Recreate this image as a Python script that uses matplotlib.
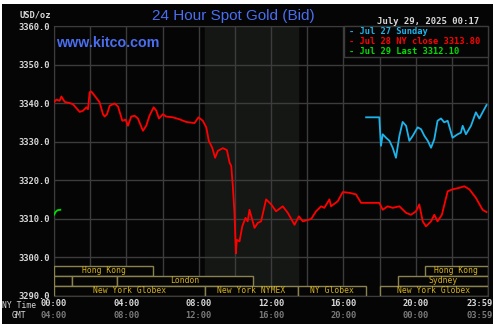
import matplotlib
matplotlib.use("Agg")
import matplotlib.pyplot as plt
from matplotlib.patches import Rectangle
from matplotlib.transforms import blended_transform_factory

# hours since 00:00 NY time, price in USD/oz
jul28_t = [0, 0.13, 0.31, 0.41, 0.59, 0.87, 1.05, 1.42, 1.6, 1.79, 1.88, 1.97, 2.06,
           2.25, 2.52, 2.71, 2.8, 2.93, 3.08, 3.35, 3.54, 3.78, 3.96, 4.09, 4.27, 4.46,
           4.64, 4.92, 5.1, 5.28, 5.51, 5.66, 5.8, 6.02, 6.2, 6.57, 6.93, 7.31, 7.77,
           7.99, 8.23, 8.42, 8.56, 8.75, 8.91, 9.06, 9.34, 9.56, 9.71, 9.8, 9.89, 9.98,
           10.06, 10.11, 10.26, 10.41, 10.59, 10.71, 10.81, 11.09, 11.27, 11.45, 11.73,
           12.01, 12.28, 12.65, 12.93, 13.3, 13.54, 13.76, 14.22, 14.49, 14.77, 14.95,
           15.23, 15.32, 15.69, 15.97, 16.34, 16.7, 16.98, 17.99, 18.18, 18.45, 18.73,
           19.1, 19.47, 19.74, 20.02, 20.2, 20.39, 20.57, 20.85, 21.03, 21.21, 21.45,
           21.77, 22.04, 22.41, 22.69, 22.97, 23.33, 23.7, 23.92]
jul28_p = [3340.2, 3340.9, 3340.6, 3341.7, 3340.3, 3340.0, 3339.7, 3337.7, 3338.0,
           3338.9, 3338.4, 3342.8, 3343.0, 3341.9, 3340.2, 3337.1, 3336.5, 3337.1,
           3339.3, 3339.9, 3339.1, 3335.4, 3335.7, 3334.1, 3336.5, 3336.7, 3336.0,
           3332.8, 3334.1, 3336.7, 3338.9, 3338.0, 3336.0, 3337.1, 3336.5, 3336.3,
           3335.8, 3335.1, 3334.8, 3336.3, 3335.4, 3333.7, 3330.2, 3328.4, 3325.8,
           3327.6, 3328.3, 3327.8, 3324.5, 3323.7, 3318.4, 3311.5, 3301.0, 3304.5,
           3304.1, 3308.0, 3310.2, 3309.3, 3312.3, 3307.6, 3308.9, 3309.3, 3315.0,
           3313.7, 3311.9, 3313.2, 3311.5, 3308.4, 3310.6, 3309.3, 3309.9, 3311.9,
           3313.2, 3312.8, 3315.0, 3313.2, 3314.5, 3316.9, 3316.7, 3316.3, 3314.1,
           3314.1, 3312.3, 3313.2, 3312.8, 3313.2, 3311.5, 3311.0, 3311.9, 3313.7,
           3309.3, 3308.0, 3309.3, 3311.0, 3309.3, 3311.0, 3317.1, 3317.6, 3318.0,
           3318.4, 3317.6, 3315.4, 3312.3, 3311.7]

jul27_t = [17.26, 17.99, 18.08, 18.18, 18.36, 18.55, 18.73, 18.91, 19.1, 19.28, 19.47,
           19.65, 19.84, 20.11, 20.3, 20.48, 20.67, 20.85, 21.03, 21.21, 21.4, 21.58,
           21.77, 22.04, 22.32, 22.5, 22.6, 22.78, 23.06, 23.33, 23.52, 23.7, 23.92]
jul27_p = [3336.3, 3336.3, 3328.9, 3331.9, 3331.0, 3330.2, 3328.4, 3325.8, 3331.5,
           3335.1, 3334.1, 3330.2, 3331.5, 3333.7, 3333.2, 3331.5, 3330.2, 3328.4,
           3330.6, 3335.4, 3336.0, 3335.0, 3335.4, 3331.0, 3331.9, 3332.3, 3334.1,
           3331.9, 3334.1, 3337.6, 3336.0, 3337.6, 3339.5]

jul29_t = [0, 0.1, 0.2, 0.35]
jul29_p = [3311.0, 3311.8, 3312.2, 3312.3]

legend_labels = ["Jul 27 Sunday", "Jul 28 NY close 3313.80", "Jul 29 Last 3312.10"]
y_ticks = [3290, 3300, 3310, 3320, 3330, 3340, 3350, 3360]
x_ticks = [0, 4, 8, 12, 16, 20, 24]
ny_labels = ["00:00", "04:00", "08:00", "12:00", "16:00", "20:00", "23:59"]
gmt_labels = ["04:00", "08:00", "12:00", "16:00", "20:00", "00:00", "03:59"]

# (name, start hour, end hour, row from top)
sessions = [
    ("Hong Kong", 0, 5.5, 0),
    ("Hong Kong", 20.5, 24, 0),
    ("", 0, 1.0, 1),
    ("", 1.0, 3.5, 1),
    ("London", 3.5, 11.0, 1),
    ("Sydney", 19.0, 24, 1),
    ("New York Globex", 0, 8.33, 2),
    ("New York NYMEX", 8.33, 13.5, 2),
    ("NY Globex", 13.5, 17.25, 2),
    ("New York Globex", 18.0, 24, 2),
]
pit_start, pit_end = 8.33, 13.5

W, H = 500, 329
mono = "DejaVu Sans Mono"
cyan, red, green = "#1cb4ea", "#ff0000", "#00dd00"
gold, box_col = "#d4b020", "#8a8350"
blue = "#4a6ef0"


def fx(x):
    return x / W


def fy(y):
    return 1 - y / H


fig = plt.figure(figsize=(5, 3.29), dpi=100, facecolor="white")
fig.patches.append(Rectangle((fx(2), fy(324)), fx(491), 320 / H, transform=fig.transFigure,
                             facecolor="#050505", edgecolor="none", zorder=-5))

ax = fig.add_axes([fx(54), fy(295.7), fx(434), (295.7 - 26) / H])
ax.set_zorder(1)
ax.set_facecolor("#050505")
ax.set_xlim(0, 24)
ax.set_ylim(3290, 3360)
ax.axvspan(pit_start, pit_end, color="#151714", zorder=0)

for v in y_ticks:
    ax.axhline(v, color="#3c3c3c", lw=1, zorder=1)
for h in range(0, 25, 2):
    ax.axvline(h, color="#3c3c3c", lw=1, zorder=1)
for s in ax.spines.values():
    s.set_color("#3c3c3c")

ax.set_xticks([])
ax.set_yticks(y_ticks, [f"{v:.1f}" for v in y_ticks])
ax.tick_params(axis="y", length=0, pad=3, labelcolor="#d8d8d8", labelsize=6.3)
for lab in ax.get_yticklabels():
    lab.set_fontfamily(mono)
    lab.set_fontweight("bold")

# price lines
ax.plot(jul28_t, jul28_p, color=red, lw=1.3, zorder=4)
ax.plot(jul27_t, jul27_p, color=cyan, lw=1.3, zorder=4)
ax.plot(jul29_t, jul29_p, color=green, lw=1.3, zorder=4)

# trading session boxes
row_h = 2.6
row_top = 3297.8
for name, start, end, row in sessions:
    y0 = row_top - (row + 1) * row_h
    ax.add_patch(Rectangle((start, y0), end - start, row_h, facecolor="#050505",
                           edgecolor=box_col, lw=1, zorder=3))
    if name:
        ax.text((start + end) / 2, y0 + row_h / 2, name, color=gold, fontsize=5.8,
                family=mono, ha="center", va="center", zorder=5)

# time labels (last one is pushed left to stay inside the panel)
tr = blended_transform_factory(ax.transData, fig.transFigure)
for i, (t, ny, gmt) in enumerate(zip(x_ticks, ny_labels, gmt_labels)):
    last = i == len(x_ticks) - 1
    kw = dict(transform=tr, fontsize=6.3, family=mono, weight="bold",
              ha="right" if last else "center", va="center", clip_on=False)
    if last:
        kw["transform"] = fig.transFigure
        t = fx(493)
    ax.text(t, fy(304), ny, color="#d8d8d8", **kw)
    ax.text(t, fy(316), gmt, color="#7a7a7a", **kw)
fig.text(fx(2), fy(305), "NY Time", color="#d8d8d8", fontsize=5.8, family=mono,
         ha="left", va="center")
fig.text(fx(19), fy(316), "GMT", color="#d8d8d8", fontsize=5.8, family=mono,
         ha="center", va="center")

# legend box
ax.add_patch(Rectangle((fx(344), fy(57)), fx(144), 31 / H, transform=fig.transFigure,
                       facecolor="#050505", edgecolor="#3c3c3c", lw=1, zorder=6,
                       clip_on=False))
for i, (lab, col) in enumerate(zip(legend_labels, [cyan, red, green])):
    fig.text(fx(349), fy(32 + i * 9.5), "- " + lab, color=col, fontsize=6.3, family=mono,
             weight="bold", ha="left", va="center", zorder=7)

# header texts
fig.text(fx(233), fy(16), "24 Hour Spot Gold (Bid)", color=blue, fontsize=11,
         family="Liberation Sans", ha="center", va="center")
fig.text(fx(56), fy(43), "www.kitco.com", color=blue, fontsize=10.3, weight="bold",
         family="Liberation Sans", ha="left", va="center", zorder=7)
fig.text(fx(51), fy(15), "USD/oz", color="#d8d8d8", fontsize=6.3, family=mono,
         weight="bold", ha="right", va="center")
fig.text(fx(479), fy(21), "July 29, 2025 00:17", color="#d8d8d8", fontsize=6.5,
         family=mono, weight="bold", ha="right", va="center")

fig.savefig("out.png", dpi=100, facecolor="white")
